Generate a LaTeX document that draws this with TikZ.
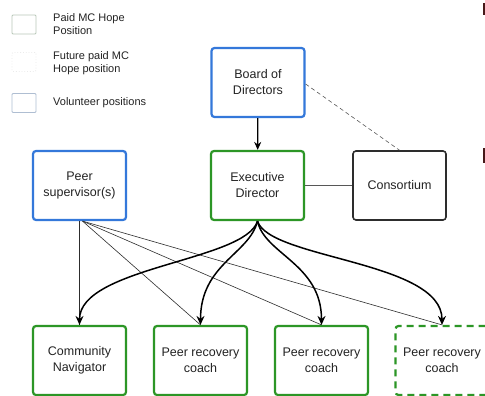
\documentclass[tikz,border=0pt]{standalone}
\usepackage{fontspec}
\setmainfont{Liberation Sans}
\usetikzlibrary{arrows.meta,calc}
\definecolor{bblue}{RGB}{52,120,218}
\definecolor{bgreen}{RGB}{44,150,38}
\definecolor{bdark}{RGB}{45,45,45}
\definecolor{txt}{RGB}{35,35,35}
\definecolor{lgreen}{RGB}{185,200,185}
\definecolor{lblue}{RGB}{175,190,210}
\definecolor{maroon}{RGB}{70,25,25}
\tikzset{
  box/.style={draw, line width=2.2pt, rounded corners=3pt, minimum width=93pt, minimum height=69pt, align=center, text=txt, font=\fontsize{12.5}{16}\selectfont, inner sep=0pt},
  bluebox/.style={box, draw=bblue},
  greenbox/.style={box, draw=bgreen},
  darkbox/.style={box, draw=bdark, line width=1.6pt},
  dashbox/.style={box, draw=bgreen, dash pattern=on 7pt off 5pt},
  legbox/.style={draw, line width=0.8pt, rounded corners=1pt, minimum width=24pt, minimum height=19pt, inner sep=0pt},
  legtext/.style={anchor=west, align=left, text=txt, font=\fontsize{11}{13.5}\selectfont, inner sep=0pt},
  curvearrow/.style={draw=black, line width=1.5pt, -{Stealth[length=9pt,width=8pt]}},
  thinline/.style={draw=bdark, line width=0.6pt}
}
\begin{document}
\begin{tikzpicture}[x=1pt,y=-1pt]
\clip (0,0) rectangle (485,396);
\fill[white] (0,0) rectangle (485,396);
% legend
\node[legbox, draw=lgreen] (l1) at (24,24.5) {};
\node[legtext] (t1) at (53,24) {Paid MC Hope\\Position};
\node[legbox, draw=black!8, dotted] (l2) at (24,62) {};
\node[legtext] (t2) at (53,63) {Future paid MC\\Hope position};
\node[legbox, draw=lblue] (l3) at (24,103) {};
\node[legtext] (t3) at (53,103) {Volunteer positions};
% main nodes
\node[bluebox] (board) at (258,82.5) {Board of\\Directors};
\node[greenbox] (exec) at (257.5,185.5) {Executive\\Director};
\node[darkbox] (cons) at (399.5,185.5) {Consortium};
\node[bluebox] (sup) at (79.5,185.5) {Peer\\supervisor(s)};
\node[greenbox] (cn) at (79.5,360.5) {Community\\Navigator};
\node[greenbox] (p1) at (200.5,360.5) {Peer recovery\\coach};
\node[greenbox] (p2) at (321.5,360.5) {Peer recovery\\coach};
\node[dashbox] (p3) at (442,360.5) {Peer recovery\\coach};
% edge marks
\fill[maroon] (482.5,3) rectangle (486,15);
\fill[maroon] (482.5,148) rectangle (486,163);
% connectors
\draw[line width=1.2pt, -{Stealth[length=8pt,width=7pt]}] (board) -- (exec);
\draw[thinline, dashed, dash pattern=on 4pt off 3pt, draw=bdark!80] (board.east |- 0,84) -- (cons.north);
\draw[thinline, draw=bdark!80] (exec) -- (cons);
% supervisor lines
\draw[thinline] (sup.south) -- (cn.north);
\draw[thinline] ($(sup.south)+(3,0)$) -- (p1.north);
\draw[thinline] ($(sup.south)+(3,0)$) -- (p2.north);
\draw[thinline] ($(sup.south)+(3,0)$) -- (p3.north);
% curved arrows
\draw[curvearrow] (exec.south) .. controls ($(exec.south)+(-12,40)$) and ($(cn.north)+(0,-58)$) .. (cn.north);
\draw[curvearrow] (exec.south) .. controls ($(exec.south)+(-8,33)$) and ($(p1.north)+(0,-61)$) .. (p1.north);
\draw[curvearrow] (exec.south) .. controls ($(exec.south)+(7,33)$) and ($(p2.north)+(0,-61)$) .. (p2.north);
\draw[curvearrow] (exec.south) .. controls ($(exec.south)+(12,38)$) and ($(p3.north)+(0,-64)$) .. (p3.north);
\end{tikzpicture}
\end{document}
